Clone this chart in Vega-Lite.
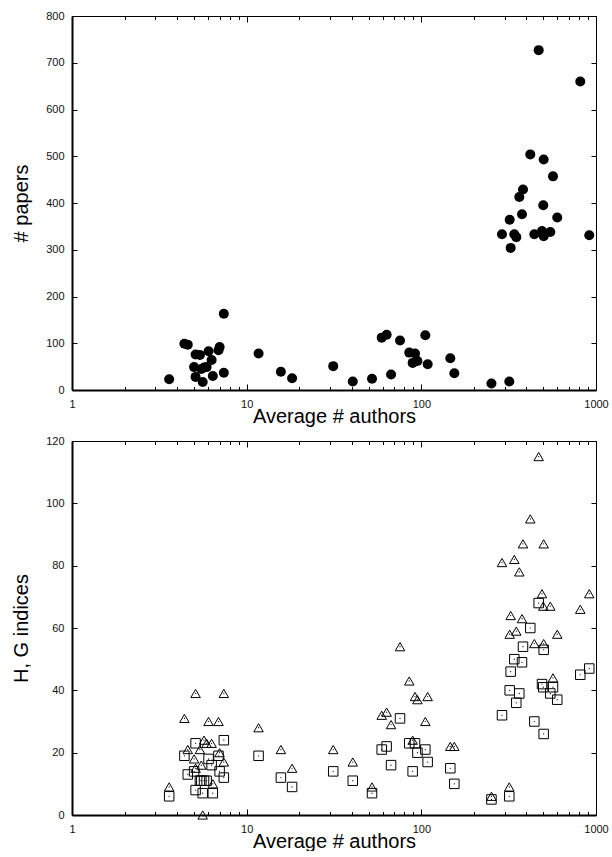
{
  "$schema": "https://vega.github.io/schema/vega-lite/v6.json",
  "padding": {"left": 11, "top": 10, "right": 5, "bottom": 0},
  "background": "white",
  "datasets": {
    "d": [
      {"a": 3.6, "p": 23, "g": 9, "h": 6},
      {"a": 4.4, "p": 99, "g": 31, "h": 19},
      {"a": 4.6, "p": 97, "g": 21, "h": 13},
      {"a": 5.1, "p": 76, "g": 39, "h": 23},
      {"a": 5.4, "p": 75, "g": 21, "h": 11},
      {"a": 6.05, "p": 83, "g": 30, "h": 18},
      {"a": 6.9, "p": 85, "g": 30, "h": 19},
      {"a": 7.0, "p": 92, "g": 20, "h": 14},
      {"a": 6.3, "p": 64, "g": 23, "h": 16},
      {"a": 5.0, "p": 49, "g": 18, "h": 14},
      {"a": 5.7, "p": 48, "g": 24, "h": 11},
      {"a": 5.9, "p": 49, "g": 23, "h": 11},
      {"a": 5.5, "p": 45, "g": 16, "h": 11},
      {"a": 5.1, "p": 28, "g": 15, "h": 8},
      {"a": 6.4, "p": 30, "g": 10, "h": 7},
      {"a": 7.4, "p": 37, "g": 17, "h": 12},
      {"a": 5.6, "p": 17, "g": 0, "h": 7},
      {"a": 7.4, "p": 163, "g": 39, "h": 24},
      {"a": 11.7, "p": 78, "g": 28, "h": 19},
      {"a": 15.7, "p": 39, "g": 21, "h": 12},
      {"a": 18.2, "p": 25, "g": 15, "h": 9},
      {"a": 31.3, "p": 51, "g": 21, "h": 14},
      {"a": 40.5, "p": 18, "g": 17, "h": 11},
      {"a": 52.2, "p": 24, "g": 9, "h": 7},
      {"a": 59.3, "p": 112, "g": 32, "h": 21},
      {"a": 63.3, "p": 118, "g": 33, "h": 22},
      {"a": 67.1, "p": 33, "g": 29, "h": 16},
      {"a": 75.5, "p": 106, "g": 54, "h": 31},
      {"a": 85.3, "p": 80, "g": 43, "h": 23},
      {"a": 92, "p": 78, "g": 38, "h": 23},
      {"a": 89.2, "p": 58, "g": 24, "h": 14},
      {"a": 95, "p": 62, "g": 37, "h": 20},
      {"a": 105.4, "p": 117, "g": 30, "h": 21},
      {"a": 108.7, "p": 55, "g": 38, "h": 17},
      {"a": 146.5, "p": 68, "g": 22, "h": 15},
      {"a": 154.5, "p": 36, "g": 22, "h": 10},
      {"a": 252, "p": 14, "g": 6, "h": 5},
      {"a": 318.8, "p": 18, "g": 9, "h": 6},
      {"a": 469.7, "p": 727, "g": 115, "h": 68},
      {"a": 812.8, "p": 660, "g": 66, "h": 45},
      {"a": 420.6, "p": 504, "g": 95, "h": 60},
      {"a": 501.7, "p": 493, "g": 87, "h": 53},
      {"a": 567.3, "p": 457, "g": 44, "h": 41},
      {"a": 382, "p": 429, "g": 87, "h": 54},
      {"a": 363.8, "p": 413, "g": 78, "h": 39},
      {"a": 499, "p": 395, "g": 67, "h": 41},
      {"a": 377, "p": 376, "g": 63, "h": 49},
      {"a": 600, "p": 369, "g": 58, "h": 37},
      {"a": 320.5, "p": 364, "g": 58, "h": 40},
      {"a": 289.6, "p": 333, "g": 81, "h": 32},
      {"a": 340.6, "p": 333, "g": 82, "h": 50},
      {"a": 349.7, "p": 327, "g": 59, "h": 36},
      {"a": 443.5, "p": 333, "g": 55, "h": 30},
      {"a": 490.7, "p": 340, "g": 71, "h": 42},
      {"a": 501.7, "p": 329, "g": 55, "h": 26},
      {"a": 547.4, "p": 338, "g": 67, "h": 39},
      {"a": 324.7, "p": 304, "g": 64, "h": 46},
      {"a": 915, "p": 331, "g": 71, "h": 47}
    ]
  },
  "config": {
    "font": "Liberation Sans",
    "view": {"stroke": null},
    "axis": {
      "grid": false,
      "ticks": true,
      "labelFont": "Liberation Sans",
      "labelFontSize": 11,
      "labelColor": "#111111",
      "titleFont": "Liberation Sans",
      "titleFontSize": 20,
      "titleFontWeight": "normal",
      "titleColor": "black",
      "domainColor": "black",
      "tickColor": "black",
      "tickWidth": 1
    }
  },
  "spacing": 9,
  "vconcat": [
    {
      "width": 524,
      "height": 374,
      "data": {"name": "d"},
      "layer": [
        {
          "mark": {"type": "circle", "size": 100, "color": "black", "opacity": 1},
          "encoding": {
            "x": {
              "field": "a", "type": "quantitative",
              "scale": {"type": "log", "domain": [1, 1000], "nice": false},
              "axis": {"orient": "bottom", "values": [1, 10, 100, 1000], "format": "d", "ticks": true, "tickColor": "black", "tickWidth": 1, "tickSize": -6, "domainWidth": 2, "labelPadding": 14, "labelFlush": false, "title": "Average # authors", "titlePadding": -3}
            },
            "y": {
              "field": "p", "type": "quantitative",
              "scale": {"domain": [0, 800], "nice": false},
              "axis": {"orient": "left", "values": [0,100,200,300,400,500,600,700,800], "ticks": true, "tickColor": "black", "tickWidth": 1, "tickSize": -5, "domainWidth": 2, "labelPadding": 13, "title": "# papers", "titlePadding": 14}
            }
          }
        },
        {
          "mark": {"type": "point", "opacity": 0},
          "encoding": {
            "x": {
              "field": "a", "type": "quantitative",
              "scale": {"type": "log", "domain": [1, 1000], "nice": false},
              "axis": {"orient": "bottom", "values": [2,3,4,5,6,7,8,9,20,30,40,50,60,70,80,90,200,300,400,500,600,700,800,900], "labels": false, "ticks": true, "tickColor": "black", "tickWidth": 1, "tickSize": -3.5, "domain": false, "title": null}
            },
            "y": {
              "field": "p", "type": "quantitative",
              "scale": {"domain": [0, 800], "nice": false},
              "axis": {"orient": "right", "values": [0,100,200,300,400,500,600,700,800], "labels": false, "ticks": true, "tickColor": "black", "tickWidth": 1, "tickSize": -5, "domainWidth": 1, "title": null}
            }
          }
        },
        {
          "mark": {"type": "point", "opacity": 0},
          "encoding": {
            "x": {
              "field": "a", "type": "quantitative",
              "scale": {"type": "log", "domain": [1, 1000], "nice": false},
              "axis": {"orient": "top", "values": [1, 10, 100, 1000], "labels": false, "ticks": true, "tickColor": "black", "tickWidth": 1, "tickSize": -6, "domainWidth": 1.2, "title": null}
            },
            "y": {"field": "p", "type": "quantitative", "scale": {"domain": [0, 800], "nice": false}, "axis": null}
          }
        },
        {
          "mark": {"type": "point", "opacity": 0},
          "encoding": {
            "x": {
              "field": "a", "type": "quantitative",
              "scale": {"type": "log", "domain": [1, 1000], "nice": false},
              "axis": {"orient": "top", "values": [2,3,4,5,6,7,8,9,20,30,40,50,60,70,80,90,200,300,400,500,600,700,800,900], "labels": false, "ticks": true, "tickColor": "black", "tickWidth": 1, "tickSize": -3.5, "domain": false, "title": null}
            },
            "y": {"field": "p", "type": "quantitative", "scale": {"domain": [0, 800], "nice": false}, "axis": null}
          }
        }
      ],
      "resolve": {"axis": {"x": "independent", "y": "independent"}}
    },
    {
      "width": 524,
      "height": 374,
      "data": {"name": "d"},
      "layer": [
        {
          "mark": {"type": "point", "shape": "triangle-up", "size": 90, "filled": false, "stroke": "black", "strokeWidth": 1, "opacity": 1},
          "encoding": {
            "x": {
              "field": "a", "type": "quantitative",
              "scale": {"type": "log", "domain": [1, 1000], "nice": false},
              "axis": {"orient": "bottom", "values": [1, 10, 100, 1000], "format": "d", "ticks": true, "tickColor": "black", "tickWidth": 1, "tickSize": -6, "domainWidth": 2, "labelPadding": 14, "labelFlush": false, "title": "Average # authors", "titlePadding": -3}
            },
            "y": {
              "field": "g", "type": "quantitative",
              "scale": {"domain": [0, 120], "nice": false},
              "axis": {"orient": "left", "values": [0,20,40,60,80,100,120], "ticks": true, "tickColor": "black", "tickWidth": 1, "tickSize": -5, "domainWidth": 2, "labelPadding": 13, "title": "H, G indices", "titlePadding": 14}
            }
          }
        },
        {
          "mark": {"type": "point", "shape": "square", "size": 90, "filled": false, "stroke": "black", "strokeWidth": 1, "opacity": 1},
          "encoding": {
            "x": {
              "field": "a", "type": "quantitative",
              "scale": {"type": "log", "domain": [1, 1000], "nice": false},
              "axis": {"orient": "bottom", "values": [2,3,4,5,6,7,8,9,20,30,40,50,60,70,80,90,200,300,400,500,600,700,800,900], "labels": false, "ticks": true, "tickColor": "black", "tickWidth": 1, "tickSize": -3.5, "domain": false, "title": null}
            },
            "y": {
              "field": "h", "type": "quantitative",
              "scale": {"domain": [0, 120], "nice": false},
              "axis": {"orient": "right", "values": [0,20,40,60,80,100,120], "labels": false, "ticks": true, "tickColor": "black", "tickWidth": 1, "tickSize": -5, "domainWidth": 1, "title": null}
            }
          }
        },
        {
          "mark": {"type": "circle", "size": 1.5, "color": "black", "opacity": 1},
          "encoding": {
            "x": {
              "field": "a", "type": "quantitative",
              "scale": {"type": "log", "domain": [1, 1000], "nice": false},
              "axis": {"orient": "top", "values": [1, 10, 100, 1000], "labels": false, "ticks": true, "tickColor": "black", "tickWidth": 1, "tickSize": -6, "domainWidth": 1.2, "title": null}
            },
            "y": {"field": "g", "type": "quantitative", "scale": {"domain": [0, 120], "nice": false}, "axis": null}
          }
        },
        {
          "mark": {"type": "circle", "size": 1.5, "color": "black", "opacity": 1},
          "encoding": {
            "x": {
              "field": "a", "type": "quantitative",
              "scale": {"type": "log", "domain": [1, 1000], "nice": false},
              "axis": {"orient": "top", "values": [2,3,4,5,6,7,8,9,20,30,40,50,60,70,80,90,200,300,400,500,600,700,800,900], "labels": false, "ticks": true, "tickColor": "black", "tickWidth": 1, "tickSize": -3.5, "domain": false, "title": null}
            },
            "y": {"field": "h", "type": "quantitative", "scale": {"domain": [0, 120], "nice": false}, "axis": null}
          }
        }
      ],
      "resolve": {"axis": {"x": "independent", "y": "independent"}}
    }
  ]
}
